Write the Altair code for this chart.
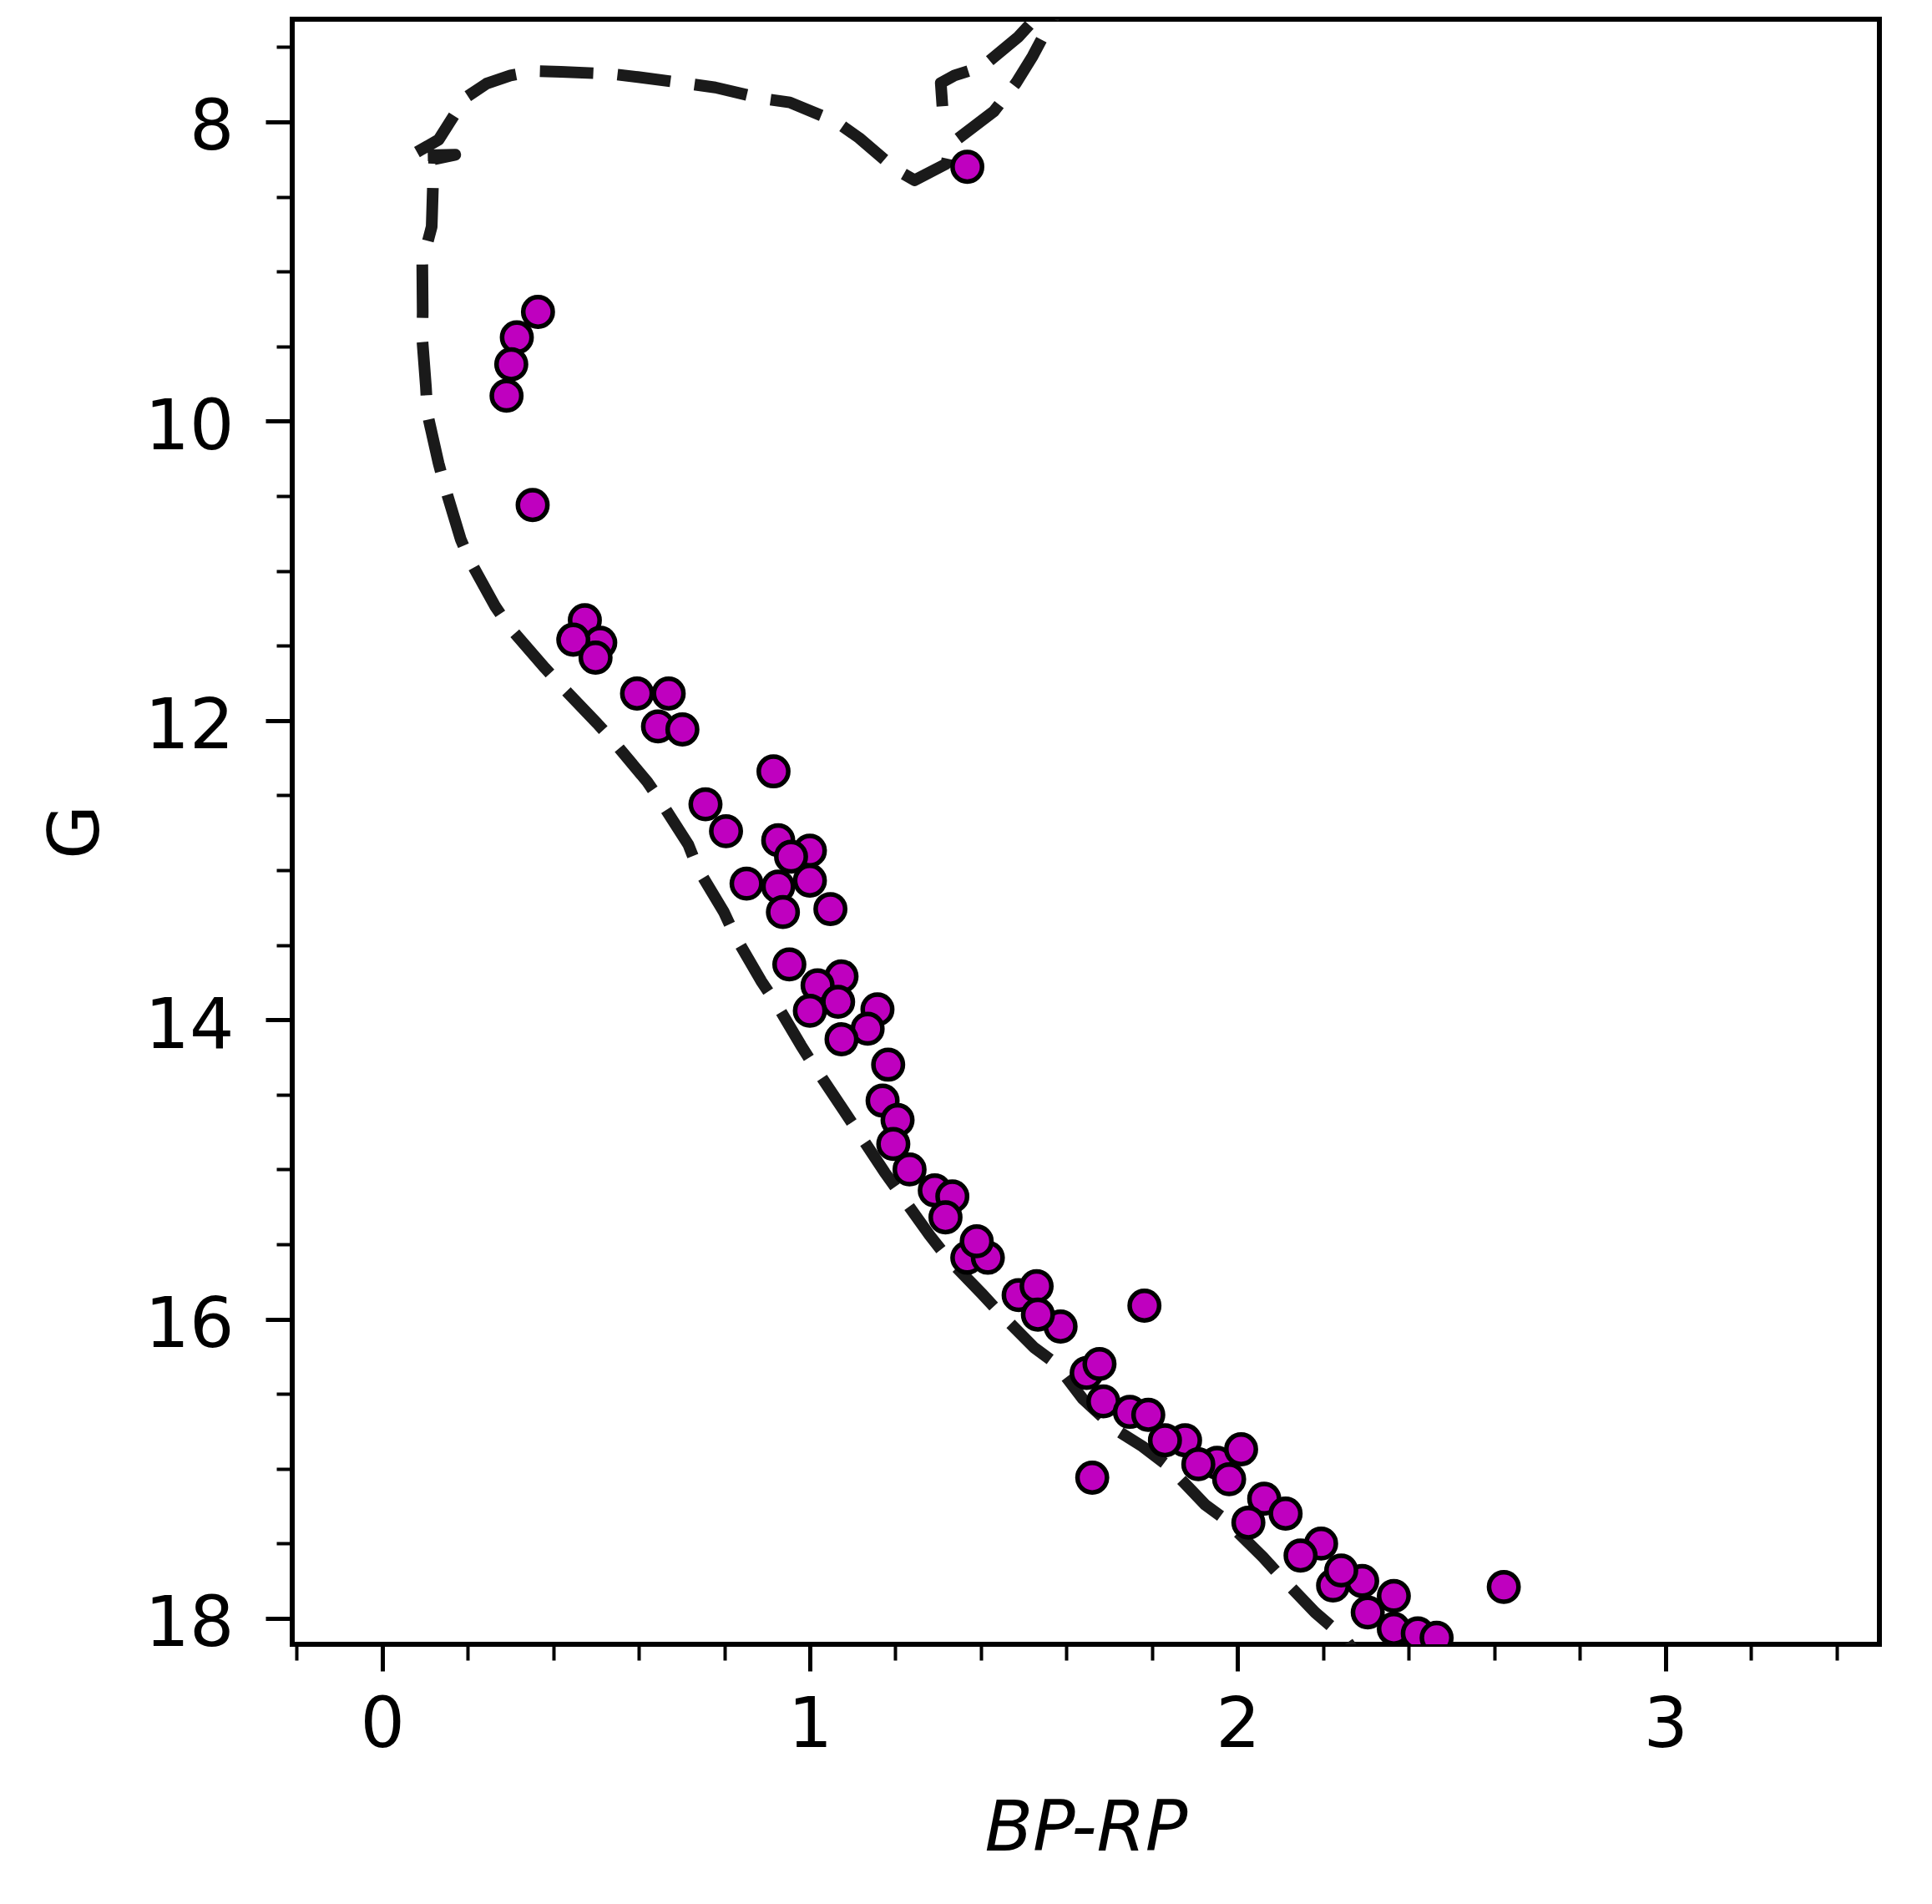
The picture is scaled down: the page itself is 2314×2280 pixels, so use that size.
import altair as alt
import pandas as pd

# ---- cluster members (BP-RP colour, G magnitude) ----
bp_rp = [1.368, 0.3645, 0.315, 0.302, 0.291, 0.352,
         0.474, 0.510, 0.447, 0.499,
         0.596, 0.670, 0.645, 0.702, 0.915, 0.756, 0.804, 0.926, 1.000, 0.956,
         0.852, 0.926, 1.000, 0.937, 1.048,
         0.952, 1.074, 1.018, 1.066, 1.000, 1.158, 1.135, 1.074, 1.183, 1.170,
         1.205, 1.195, 1.233, 1.292, 1.333, 1.317, 1.368, 1.416, 1.390, 1.488,
         1.530, 1.586, 1.533, 1.782, 1.647, 1.677, 1.686, 1.748, 1.791, 1.877,
         1.830, 1.952, 2.008, 1.980, 1.908, 1.660, 2.062, 2.112, 2.025, 2.195,
         2.147, 2.223, 2.291, 2.242, 2.365, 2.304, 2.365, 2.421, 2.465, 2.622]
g_mag = [8.30, 9.27, 9.44, 9.62, 9.83, 10.56,
         11.33, 11.48, 11.46, 11.58,
         11.82, 11.82, 12.04, 12.06, 12.34, 12.56, 12.74, 12.80, 12.87, 12.91,
         13.09, 13.11, 13.07, 13.28, 13.26,
         13.63, 13.71, 13.77, 13.88, 13.94, 13.93, 14.06, 14.13, 14.30, 14.54,
         14.67, 14.83, 15.00, 15.14, 15.18, 15.32, 15.59, 15.59, 15.48, 15.84,
         15.78, 16.05, 15.97, 15.91, 16.36, 16.30, 16.55, 16.62, 16.64, 16.81,
         16.81, 16.96, 16.87, 17.07, 16.97, 17.06, 17.20, 17.30, 17.36, 17.50,
         17.58, 17.78, 17.75, 17.68, 17.85, 17.96, 18.07, 18.10, 18.13, 17.79]

# ---- isochrone (dashed line) ----
iso_x = [2.33, 2.25, 2.181, 2.094, 2.059, 1.967, 1.924, 1.837, 1.777, 1.716,
         1.637, 1.576, 1.524, 1.441, 1.402, 1.324, 1.280, 1.215, 1.175, 1.115,
         1.080, 1.010, 0.979, 0.921, 0.886, 0.825, 0.799, 0.738, 0.716, 0.651,
         0.620, 0.538, 0.503, 0.416, 0.381, 0.296, 0.265, 0.205, 0.184, 0.148,
         0.132, 0.106, 0.1025, 0.094, 0.095, 0.094, 0.116, 0.119, 0.122, 0.171,
         0.067, 0.132, 0.194, 0.244, 0.300, 0.356, 0.418, 0.536, 0.598, 0.717,
         0.779, 0.891, 0.953, 1.059, 1.115, 1.202, 1.245, 1.319, 1.329, 1.430,
         1.482, 1.521, 1.560, 1.600, 1.580, 1.520, 1.488, 1.404, 1.338, 1.306,
         1.312]
iso_y = [18.45, 18.13, 17.96, 17.70, 17.59, 17.33, 17.24, 16.98, 16.85, 16.74,
         16.53, 16.30, 16.19, 15.95, 15.83, 15.60, 15.44, 15.18, 15.02, 14.76,
         14.61, 14.31, 14.17, 13.89, 13.74, 13.44, 13.28, 12.99, 12.83, 12.54,
         12.41, 12.13, 12.02, 11.76, 11.65, 11.37, 11.24, 10.93, 10.79, 10.45,
         10.28, 9.95, 9.77, 9.45, 9.27, 8.94, 8.70, 8.42, 8.25, 8.22,
         8.225, 8.12, 7.84, 7.745, 7.69, 7.66, 7.665, 7.68, 7.70, 7.745,
         7.77, 7.845, 7.87, 7.995, 8.107, 8.32, 8.39, 8.28, 8.15, 7.93,
         7.74, 7.56, 7.35, 7.15, 7.15, 7.33, 7.43, 7.63, 7.69, 7.74,
         7.985]

# ---- ticks ----
major_x = [0, 1, 2, 3]
minor_x = [-0.2, 0.2, 0.4, 0.6, 0.8, 1.2, 1.4, 1.6, 1.8, 2.2, 2.4, 2.6, 2.8, 3.2, 3.4]
major_y = [8, 10, 12, 14, 16, 18]
minor_y = [7.5, 8.5, 9, 9.5, 10.5, 11, 11.5, 12.5, 13, 13.5, 14.5, 15, 15.5,
           16.5, 17, 17.5]

stars = pd.DataFrame({"bp_rp": bp_rp, "g": g_mag})
iso = pd.DataFrame({"bp_rp": iso_x, "g": iso_y, "i": list(range(len(iso_x)))})

xscale = alt.Scale(domain=[-0.21, 3.5], nice=False, zero=False)
yscale = alt.Scale(domain=[7.314, 18.173], nice=False, zero=False, reverse=True)

FONT = "DejaVu Sans"
FS = 84

line = alt.Chart(iso).mark_line(
    color="#1a1a1a", strokeWidth=14, strokeDash=[64, 29], strokeJoin="round", clip=True
).encode(
    x=alt.X("bp_rp:Q", scale=xscale,
            axis=alt.Axis(orient="bottom", values=minor_x, tickSize=19, tickWidth=4,
                          tickColor="black", labels=False, domain=False, grid=False,
                          title=None)),
    y=alt.Y("g:Q", scale=yscale,
            axis=alt.Axis(orient="left", values=minor_y, tickSize=19, tickWidth=4,
                          tickColor="black", labels=False, domain=False, grid=False,
                          title=None)),
    order=alt.Order("i:Q"),
)

points = alt.Chart(stars).mark_point(
    shape="circle", filled=True, fill="#bf00bf", stroke="black", strokeWidth=5.5,
    size=1250, opacity=1, fillOpacity=1, strokeOpacity=1, clip=True
).encode(
    x=alt.X("bp_rp:Q", scale=xscale,
            axis=alt.Axis(orient="bottom", values=major_x, format="d", tickSize=32,
                          tickWidth=5, tickColor="black", domain=False, grid=False,
                          labelFont=FONT, labelFontSize=FS, labelColor="black",
                          labelPadding=24, labelFlush=False, labelOverlap=False,
                          title="BP-RP", titleFont=FONT, titleFontSize=FS,
                          titleFontStyle="italic", titleFontWeight="normal",
                          titleColor="black", titleBaseline="alphabetic", titleY=246)),
    y=alt.Y("g:Q", scale=yscale,
            axis=alt.Axis(orient="left", values=major_y, format="d", tickSize=32,
                          tickWidth=5, tickColor="black", domain=False, grid=False,
                          labelFont=FONT, labelFontSize=FS, labelColor="black",
                          labelPadding=38, labelOffset=8, labelFlush=False,
                          labelOverlap=False,
                          title="G", titleFont=FONT, titleFontSize=FS,
                          titleFontWeight="normal", titleColor="black",
                          titleBaseline="alphabetic", titleAngle=270, titleX=-233)),
)

chart = alt.layer(line, points).resolve_axis(
    x="independent", y="independent"
).properties(
    width=1901, height=1946,
    autosize=alt.AutoSizeParams(type="none"),
    padding={"left": 342, "top": 15, "right": 55, "bottom": 303},
    background="white",
).configure_view(stroke="black", strokeWidth=6)

chart.save("out.html", embed_options={"renderer": "svg", "actions": False})
